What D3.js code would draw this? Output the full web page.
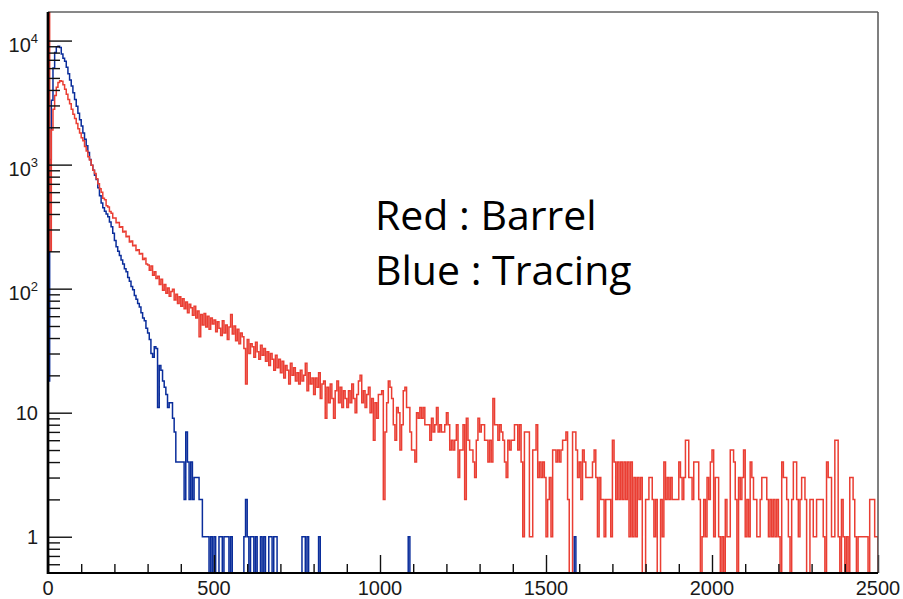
<!DOCTYPE html>
<html>
<head>
<meta charset="utf-8">
<script src="https://cdn.jsdelivr.net/npm/d3@7"></script>
<style>
  body { margin: 0; background: #fff; }
  svg { display: block; }
  .tick-label { font-family: "Liberation Sans", Arial, sans-serif; font-size: 20px; fill: #1a1a1a; }
  .note { font-family: "Open Sans", sans-serif; font-size: 41px; fill: #000; }
</style>
</head>
<body>
<div id="chart"></div>
<script>
// bin width of both histograms (x units)
const binWidth = 5;

// red histogram: "Barrel", one count per 5-unit bin from 0 to 2500
const barrelCounts = [
  40000, 200, 1900, 2800, 3600, 4200, 4600, 4750, 4700, 4400,
  4050, 3700, 3350, 3100, 2800, 2550, 2350, 2150, 1950, 1800,
  1650, 1560, 1400, 1290, 1160, 1090, 990, 900, 850, 770,
  700, 640, 600, 535, 520, 465, 455, 418, 405, 372,
  372, 340, 342, 312, 316, 286, 290, 262, 265, 238,
  242, 222, 224, 203, 206, 190, 192, 172, 176, 158,
  155, 141, 152, 128, 137, 121, 126, 108, 119, 97,
  108, 92, 101, 87, 95, 99, 81, 90, 76, 86,
  72, 83, 69, 78, 64, 75, 70, 61, 72, 58,
  66, 41, 62, 51, 63, 49, 60, 47, 58, 52,
  56, 45, 54, 48, 42, 55, 44, 51, 39, 49,
  62, 43, 50, 38, 47, 36, 44, 41, 33, 17,
  39, 30, 36, 34, 28, 37, 31, 27, 35, 29,
  33, 26, 31, 24, 30, 27, 22, 29, 23, 27,
  21, 26, 19, 24, 22, 17, 25, 20, 23, 18,
  21, 17, 22, 18, 20, 25, 15, 21, 17, 19,
  14, 19, 16, 21, 13, 17, 18, 9, 16, 12,
  17, 13, 9, 15, 18, 12, 16, 11, 15, 13,
  11, 15, 12, 17, 13, 10, 14, 18, 20, 12,
  15, 11, 14, 16, 10, 13, 6, 12, 9, 14,
  14, 15, 2, 7, 12, 18, 16, 13, 8, 6,
  11, 10, 5, 8, 15, 16, 11, 11, 7, 5,
  5, 4, 10, 9, 11, 9, 11, 8, 8, 8,
  6, 9, 7, 8, 11, 7, 8, 7, 7, 8,
  10, 8, 5, 6, 5, 6, 8, 3, 5, 5,
  8, 2, 9, 6, 5, 5, 4, 3, 6, 9,
  7, 8, 8, 6, 6, 4, 6, 4, 13, 8,
  8, 6, 8, 7, 6, 4, 3, 6, 5, 6,
  6, 8, 8, 5, 8, 4, 1, 7, 7, 7,
  1, 1, 5, 5, 8, 3, 4, 3, 4, 3,
  1, 2, 3, 1, 5, 5, 4, 5, 4, 5,
  6, 6, 7, 2, 0, 0, 7, 7, 5, 3,
  4, 2, 5, 4, 3, 3, 3, 3, 4, 5,
  3, 1, 3, 2, 2, 1, 2, 2, 2, 1,
  6, 4, 2, 4, 2, 4, 2, 4, 2, 4,
  1, 4, 1, 3, 1, 3, 2, 3, 0, 0,
  2, 2, 3, 3, 2, 1, 2, 0, 0, 2,
  1, 4, 2, 3, 2, 3, 2, 2, 2, 2,
  4, 3, 2, 3, 6, 6, 3, 3, 2, 4,
  4, 4, 2, 0, 1, 2, 1, 3, 2, 4,
  5, 1, 3, 3, 1, 0, 1, 0, 2, 1,
  1, 5, 5, 4, 2, 0, 3, 2, 3, 5,
  1, 2, 1, 4, 3, 2, 2, 1, 1, 2,
  3, 3, 3, 2, 1, 2, 1, 2, 1, 2,
  1, 0, 4, 3, 3, 2, 1, 0, 2, 4,
  4, 2, 1, 2, 3, 3, 2, 0, 0, 2,
  2, 1, 1, 2, 2, 2, 2, 1, 0, 4,
  3, 3, 1, 1, 6, 6, 1, 0, 2, 1,
  0, 1, 0, 3, 3, 2, 1, 0, 1, 1,
  1, 1, 1, 1, 0, 2, 2, 2, 1, 1
];

// blue histogram: "Tracing", same binning, empty after bin 319
const tracingCounts = [
  18, 1100, 3300, 6000, 8000, 8900, 9000, 8800, 7800, 7200,
  6800, 6100, 5400, 4800, 4300, 3800, 3350, 2950, 2600, 2300,
  2050, 1800, 1600, 1420, 1250, 1100, 990, 900, 820, 760,
  650, 560, 490, 450, 420, 400, 380, 345, 316, 280,
  245, 218, 200, 185, 170, 158, 145, 137, 123, 115,
  104, 98, 88, 82, 76, 71, 64, 58, 55, 48,
  44, 39, 30, 28, 34, 33, 11, 24, 22, 18,
  16, 14, 11, 12, 12, 9, 7, 4, 4, 4,
  4, 4, 2, 7, 4, 2, 4, 2, 3, 3,
  3, 2, 2, 1, 1, 1, 1, 0, 1, 0,
  1, 0, 0, 1, 1, 0, 1, 1, 1, 0,
  1, 0, 0, 0, 0, 0, 0, 0, 1, 2,
  1, 0, 1, 1, 0, 1, 0, 0, 1, 0,
  1, 0, 0, 1, 1, 0, 1, 1, 0, 0,
  0, 0, 0, 0, 0, 0, 0, 0, 0, 0,
  0, 0, 0, 1, 1, 0, 1, 0, 0, 0,
  0, 0, 0, 1, 0, 0, 0, 0, 0, 0,
  0, 0, 0, 0, 0, 0, 0, 0, 0, 0,
  0, 0, 0, 0, 0, 0, 0, 0, 0, 0,
  0, 0, 0, 0, 0, 0, 0, 0, 0, 0,
  0, 0, 0, 0, 0, 0, 0, 0, 0, 0,
  0, 0, 0, 0, 0, 0, 0, 1, 0, 0,
  0, 0, 0, 0, 0, 0, 0, 0, 0, 0,
  0, 0, 0, 0, 0, 0, 0, 0, 0, 0,
  0, 0, 0, 0, 0, 0, 0, 0, 0, 0,
  0, 0, 0, 0, 0, 0, 0, 0, 0, 0,
  0, 0, 0, 0, 0, 0, 0, 0, 0, 0,
  0, 0, 0, 0, 0, 0, 0, 0, 0, 0,
  0, 0, 0, 0, 0, 0, 0, 0, 0, 0,
  0, 0, 0, 0, 0, 0, 0, 0, 0, 0,
  0, 0, 0, 0, 0, 0, 0, 0, 0, 0,
  0, 0, 0, 0, 0, 0, 0, 1, 0, 0
];

const xTickLabels = [0, 500, 1000, 1500, 2000, 2500];
const yDecades = [1, 10, 100, 1000, 10000];
const notes = ['Red : Barrel', 'Blue : Tracing'];

const width = 903, height = 599;
const margin = {top: 12, right: 25, bottom: 26, left: 48};

const svg = d3.select('#chart').append('svg')
    .attr('width', width)
    .attr('height', height);

svg.append('rect').attr('width', width).attr('height', height).attr('fill', '#fff');

const x = d3.scaleLinear()
    .domain([0, 2500])
    .range([margin.left, width - margin.right]);

const y = d3.scaleLog()
    .domain([0.51, 17000])
    .range([height - margin.bottom, margin.top]);

// frame clip so off-scale bins are cut like in the original
svg.append('defs').append('clipPath').attr('id', 'frame-clip')
  .append('rect')
    .attr('x', x.range()[0])
    .attr('y', y.range()[1])
    .attr('width', x.range()[1] - x.range()[0])
    .attr('height', y.range()[0] - y.range()[1]);

// empty bins fall below the frame on a log axis
const yFloor = y.range()[0] + 4;

function histPoints(counts) {
  const pts = [{edge: 0, count: 0}];
  counts.forEach((c, i) => pts.push({edge: i * binWidth, count: c}));
  pts.push({edge: counts.length * binWidth, count: 0});
  return pts;
}

const stepLine = d3.line()
    .x(d => x(d.edge))
    .y(d => d.count > 0 ? y(d.count) : yFloor)
    .curve(d3.curveStepAfter);

const plot = svg.append('g').attr('clip-path', 'url(#frame-clip)');

plot.append('path')
    .attr('d', stepLine(histPoints(tracingCounts)))
    .attr('fill', 'none')
    .attr('stroke', '#0a2d9b')
    .attr('stroke-width', 1.5);

plot.append('path')
    .attr('d', stepLine(histPoints(barrelCounts)))
    .attr('fill', 'none')
    .attr('stroke', '#ea3e33')
    .attr('stroke-width', 1.5);

// y axis: ticks point inward
const yMinor = y.ticks().filter(v => !yDecades.includes(v));

svg.append('g')
    .attr('transform', `translate(${x.range()[0]},0)`)
    .call(d3.axisRight(y).tickValues(yMinor).tickSize(12).tickFormat(''));

svg.append('g')
    .attr('transform', `translate(${x.range()[0]},0)`)
    .call(d3.axisRight(y).tickValues(yDecades).tickSize(24).tickFormat(''));

// x axis: ticks point up into the frame
const xMinor = x.ticks(25).filter(v => !xTickLabels.includes(v));

svg.append('g')
    .attr('transform', `translate(0,${y.range()[0]})`)
    .call(d3.axisTop(x).tickValues(xMinor).tickSize(9).tickFormat(''));

svg.append('g')
    .attr('transform', `translate(0,${y.range()[0]})`)
    .call(d3.axisTop(x).tickValues(xTickLabels).tickSize(18).tickFormat(''));

svg.selectAll('.domain').remove();
svg.selectAll('.tick line').attr('stroke', '#111').attr('stroke-width', 1.4);

// frame
svg.append('line')
    .attr('x1', x.range()[0]).attr('x2', x.range()[1])
    .attr('y1', y.range()[1]).attr('y2', y.range()[1])
    .attr('stroke', '#111').attr('stroke-width', 1);
svg.append('line')
    .attr('x1', x.range()[1]).attr('x2', x.range()[1])
    .attr('y1', y.range()[1]).attr('y2', y.range()[0])
    .attr('stroke', '#555').attr('stroke-width', 1.5);
svg.append('line')
    .attr('x1', x.range()[0]).attr('x2', x.range()[1])
    .attr('y1', y.range()[0]).attr('y2', y.range()[0])
    .attr('stroke', '#000').attr('stroke-width', 2);
svg.append('line')
    .attr('x1', x.range()[0]).attr('x2', x.range()[0])
    .attr('y1', y.range()[1]).attr('y2', y.range()[0] + 1)
    .attr('stroke', '#000').attr('stroke-width', 2.7);

// x labels
svg.selectAll('.x-label')
    .data(xTickLabels)
  .join('text')
    .attr('class', 'tick-label x-label')
    .attr('text-anchor', 'middle')
    .attr('x', d => x(d))
    .attr('y', y.range()[0] + 22)
    .text(d => d);

// y labels, 10^n written with a raised exponent
const yLabels = svg.selectAll('.y-label')
    .data(yDecades)
  .join('text')
    .attr('class', 'tick-label y-label')
    .attr('text-anchor', 'end')
    .attr('x', x.range()[0] - 10)
    .attr('y', d => Math.log10(d) > 1 ? y(d) + 11 : y(d) + 7);

yLabels.each(function(d) {
  const e = Math.round(Math.log10(d));
  const t = d3.select(this);
  if (e <= 1) {
    t.text(d);
  } else {
    t.append('tspan').text('10');
    t.append('tspan').attr('dy', -9).attr('font-size', 13).text(e);
  }
});

// legend note
svg.selectAll('.note')
    .data(notes)
  .join('text')
    .attr('class', 'note')
    .attr('x', 375)
    .attr('y', (d, i) => 230 + i * 55)
    .text(d => d);
</script>
</body>
</html>
